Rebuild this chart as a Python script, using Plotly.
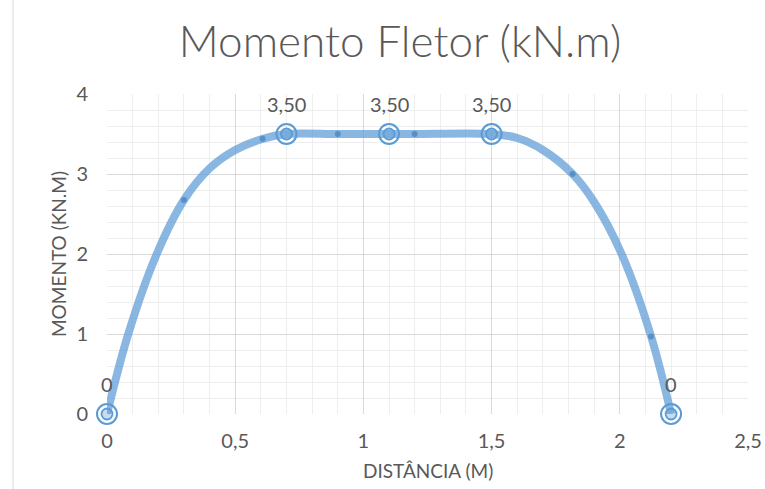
import plotly.graph_objects as go

# curve (distance m, moment kN.m)
curve_x = [0, 0.083, 0.194, 0.30, 0.40, 0.50, 0.607, 0.70, 0.90, 1.10, 1.20, 1.50, 1.60, 1.70, 1.816, 1.90, 2.007, 2.122, 2.20]
curve_y = [0, 1.00, 2.00, 2.675, 3.07, 3.30, 3.44, 3.50, 3.50, 3.50, 3.50, 3.50, 3.45, 3.30, 3.00, 2.65, 2.00, 0.97, 0]

dot_x = [0.30, 0.607, 0.90, 1.20, 1.816, 2.122]
dot_y = [2.675, 3.44, 3.50, 3.50, 3.00, 0.97]

key_x = [0, 0.70, 1.10, 1.50, 2.20]
key_y = [0, 3.50, 3.50, 3.50, 0]
key_labels = ["0", "3,50", "3,50", "3,50", "0"]

x_ticks = [0, 0.5, 1, 1.5, 2, 2.5]
y_ticks = [0, 1, 2, 3, 4]

FONT = "Lato"
GREY = "#595959"
BLUE = "#5B9BD5"

fig = go.Figure()
fig.add_trace(go.Scatter(x=curve_x, y=curve_y, mode="lines",
                         line=dict(color="rgba(91,155,213,0.72)", width=8, shape="spline", smoothing=1.0),
                         cliponaxis=False, hoverinfo="skip"))
fig.add_trace(go.Scatter(x=dot_x, y=dot_y, mode="markers",
                         marker=dict(color="#4F86C2", size=6, opacity=0.8),
                         cliponaxis=False))
fig.add_trace(go.Scatter(x=key_x, y=key_y, mode="markers",
                         marker=dict(symbol="circle-open", color=BLUE, size=20, line=dict(width=2, color=BLUE)),
                         cliponaxis=False))
fig.add_trace(go.Scatter(x=key_x, y=key_y, mode="markers",
                         marker=dict(symbol="circle", color="rgba(91,155,213,0.35)", size=11, line=dict(width=1.8, color=BLUE)),
                         cliponaxis=False))

for xv, yv, lab in zip(key_x, key_y, key_labels):
    fig.add_annotation(x=xv, y=yv, text=lab, showarrow=False, yshift=30,
                       font=dict(family=FONT, size=20, color=GREY))

fig.update_layout(
    width=765, height=489,
    margin=dict(l=107, r=17, t=94, b=75),
    paper_bgcolor="white", plot_bgcolor="white",
    showlegend=False,
    separators=",.",
    title=dict(text="Momento Fletor (kN.m)", x=0.523, xanchor="center", y=0.915, yanchor="middle",
               font=dict(family=FONT, size=44, color=GREY, weight=300)),
    shapes=[dict(type="line", xref="paper", yref="paper", x0=-0.1466, x1=-0.1466, y0=-0.3, y1=1.4,
                 line=dict(color="#D9D9D9", width=1))],
)
fig.update_xaxes(range=[0, 2.5], tickvals=x_ticks, showline=False, zeroline=False, automargin=False,
                 showgrid=True, gridcolor="#D9D9D9", gridwidth=1,
                 minor=dict(dtick=0.1, showgrid=True, gridcolor="#EEEEEE", gridwidth=1),
                 tickfont=dict(family=FONT, size=20, color=GREY), ticklabelstandoff=13)
fig.update_yaxes(range=[0, 4], tickvals=y_ticks, showline=False, zeroline=False, automargin=False,
                 showgrid=True, gridcolor="#D9D9D9", gridwidth=1,
                 minor=dict(dtick=0.2, showgrid=True, gridcolor="#EEEEEE", gridwidth=1),
                 tickfont=dict(family=FONT, size=20, color=GREY), ticklabelstandoff=18)

# axis titles placed as annotations for exact positioning
fig.add_annotation(text="DISTÂNCIA (M)", xref="paper", yref="paper", x=0.5, y=-0.175,
                   xanchor="center", yanchor="middle", showarrow=False,
                   font=dict(family=FONT, size=19, color=GREY))
fig.add_annotation(text="MOMENTO (KN.M)", xref="paper", yref="paper", x=-0.0764, y=0.5,
                   xanchor="center", yanchor="middle", showarrow=False, textangle=-90,
                   font=dict(family=FONT, size=19, color=GREY))

fig.write_html("out.html")
